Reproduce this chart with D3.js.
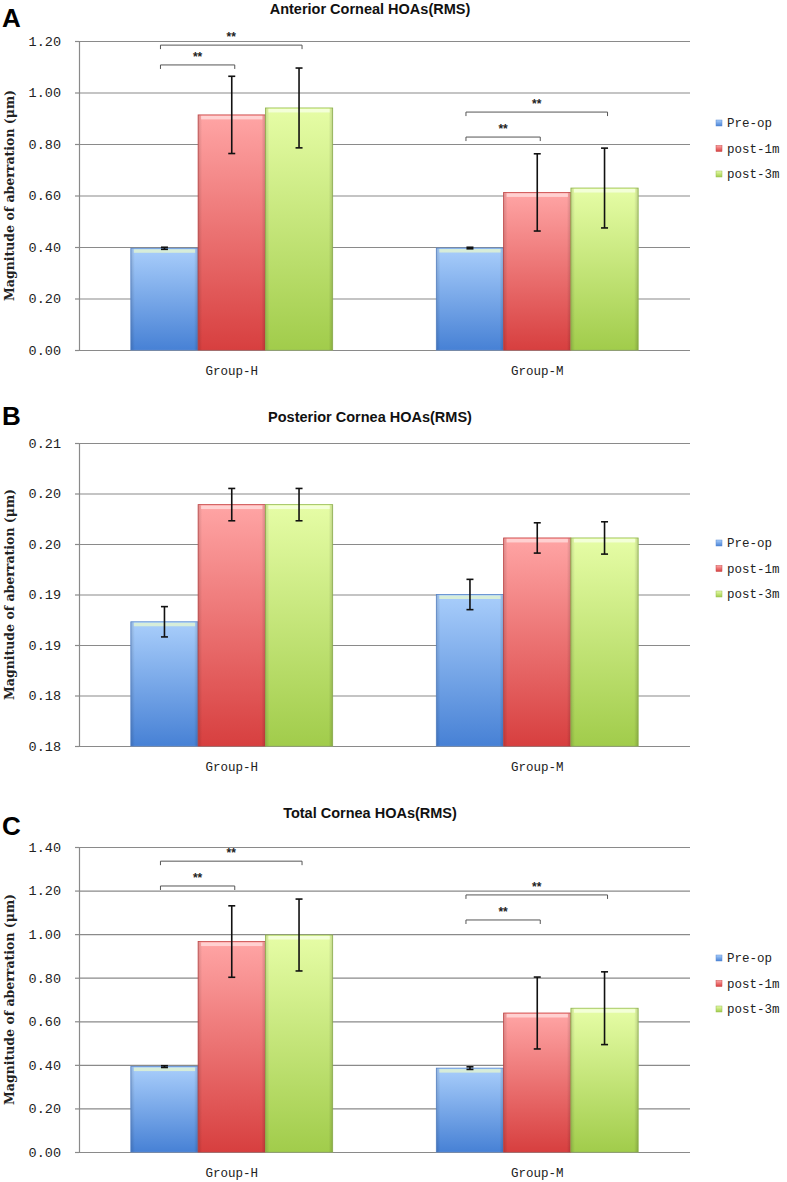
<!DOCTYPE html>
<html>
<head>
<meta charset="utf-8">
<script src="https://cdn.jsdelivr.net/npm/d3@7/dist/d3.min.js"></script>
<style>
  html, body { margin: 0; padding: 0; background: #fff; }
  svg { display: block; }
</style>
</head>
<body>
<svg id="chart" width="787" height="1182"></svg>
<script>
// ---------- DATA ----------
const groups = ["Group-H", "Group-M"];
const seriesNames = ["Pre-op", "post-1m", "post-3m"];

// Panel A: Anterior Corneal HOAs (RMS)
const anteriorMeans = [[0.395, 0.913, 0.940], [0.396, 0.612, 0.629]];
const anteriorErrors = [[0.004, 0.150, 0.155], [0.003, 0.150, 0.155]];
const anteriorTicks = [0, 0.2, 0.4, 0.6, 0.8, 1.0, 1.2];
const anteriorTickLabels = ["0.00", "0.20", "0.40", "0.60", "0.80", "1.00", "1.20"];
const anteriorBrackets = [
  { group: "Group-H", from: "Pre-op", to: "post-1m", level: 1.107, label: "**" },
  { group: "Group-H", from: "Pre-op", to: "post-3m", level: 1.184, label: "**" },
  { group: "Group-M", from: "Pre-op", to: "post-1m", level: 0.827, label: "**" },
  { group: "Group-M", from: "Pre-op", to: "post-3m", level: 0.924, label: "**" }
];

// Panel B: Posterior Cornea HOAs (RMS)
const posteriorMeans = [[0.1873, 0.1989, 0.1989], [0.1900, 0.1956, 0.1956]];
const posteriorErrors = [[0.0015, 0.0016, 0.0016], [0.0015, 0.0015, 0.0016]];
const posteriorTicks = [0.175, 0.18, 0.185, 0.19, 0.195, 0.20, 0.205];
const posteriorTickLabels = ["0.18", "0.18", "0.19", "0.19", "0.20", "0.20", "0.21"];
const posteriorBrackets = [];

// Panel C: Total Cornea HOAs (RMS)
const totalMeans = [[0.392, 0.966, 0.996], [0.385, 0.638, 0.660]];
const totalErrors = [[0.004, 0.164, 0.165], [0.006, 0.165, 0.167]];
const totalTicks = [0, 0.2, 0.4, 0.6, 0.8, 1.0, 1.2, 1.4];
const totalTickLabels = ["0.00", "0.20", "0.40", "0.60", "0.80", "1.00", "1.20", "1.40"];
const totalBrackets = [
  { group: "Group-H", from: "Pre-op", to: "post-1m", level: 1.221, label: "**" },
  { group: "Group-H", from: "Pre-op", to: "post-3m", level: 1.335, label: "**" },
  { group: "Group-M", from: "Pre-op", to: "post-1m", level: 1.065, label: "**" },
  { group: "Group-M", from: "Pre-op", to: "post-3m", level: 1.180, label: "**" }
];

const panelLetters = ["A", "B", "C"];
const panelTitles = ["Anterior Corneal HOAs(RMS)", "Posterior Cornea HOAs(RMS)", "Total Cornea HOAs(RMS)"];
const yAxisTitle = "Magnitude of aberration (\u03bcm)";

// ---------- LAYOUT ----------
const plotLeft = 79, plotRight = 690;
const panels = [
  { letter: panelLetters[0], title: panelTitles[0], means: anteriorMeans, errors: anteriorErrors,
    ticks: anteriorTicks, tickLabels: anteriorTickLabels, brackets: anteriorBrackets,
    top: 41, bottom: 350, titleY: 14, letterY: 27, legendY: 124 },
  { letter: panelLetters[1], title: panelTitles[1], means: posteriorMeans, errors: posteriorErrors,
    ticks: posteriorTicks, tickLabels: posteriorTickLabels, brackets: posteriorBrackets,
    top: 443, bottom: 746, titleY: 422, letterY: 425, legendY: 544 },
  { letter: panelLetters[2], title: panelTitles[2], means: totalMeans, errors: totalErrors,
    ticks: totalTicks, tickLabels: totalTickLabels, brackets: totalBrackets,
    top: 847, bottom: 1152, titleY: 818, letterY: 835, legendY: 959 }
];

const colors = {
  "Pre-op":  { top: "#a9cefb", bottom: "#4781d5", edge: "#5b8bd2", hi: "#dff2d2" },
  "post-1m": { top: "#ffa5a5", bottom: "#d73f3f", edge: "#c84848", hi: "#ffd9d9" },
  "post-3m": { top: "#e6fda6", bottom: "#a1cc4b", edge: "#98bd55", hi: "#f6ffe0" }
};

const monoFont = "'Liberation Mono', 'DejaVu Sans Mono', monospace";
const gridColor = "#8a8a8a";

const svg = d3.select("#chart");
svg.append("rect").attr("width", 787).attr("height", 1182).attr("fill", "#fff");

// gradients
const defs = svg.append("defs");
seriesNames.forEach((s, i) => {
  const gr = defs.append("linearGradient").attr("id", "grad" + i)
    .attr("x1", 0).attr("y1", 0).attr("x2", 0).attr("y2", 1);
  gr.append("stop").attr("offset", "0%").attr("stop-color", colors[s].top);
  gr.append("stop").attr("offset", "100%").attr("stop-color", colors[s].bottom);
});
const side = defs.append("linearGradient").attr("id", "sideShade")
  .attr("x1", 0).attr("y1", 0).attr("x2", 1).attr("y2", 0);
side.append("stop").attr("offset", "0%").attr("stop-color", "#000").attr("stop-opacity", 0.14);
side.append("stop").attr("offset", "6%").attr("stop-color", "#000").attr("stop-opacity", 0.0);
side.append("stop").attr("offset", "94%").attr("stop-color", "#000").attr("stop-opacity", 0.0);
side.append("stop").attr("offset", "100%").attr("stop-color", "#000").attr("stop-opacity", 0.16);

panels.forEach(p => {
  const g = svg.append("g");
  const y = d3.scaleLinear().domain([p.ticks[0], p.ticks[p.ticks.length - 1]]).range([p.bottom, p.top]);
  const x0 = d3.scaleBand().domain(groups).range([plotLeft, plotRight]);
  const x1 = d3.scaleBand().domain(seriesNames).range([0, x0.bandwidth()]).paddingInner(0).paddingOuter(0.77);

  // gridlines
  const grid = g.append("g").attr("transform", `translate(${plotLeft},0)`)
    .call(d3.axisLeft(y).tickValues(p.ticks).tickSize(-(plotRight - plotLeft)).tickFormat(""));
  grid.select(".domain").remove();
  grid.selectAll("line").attr("stroke", gridColor).attr("stroke-width", 1.2);

  // left axis with labels
  const ax = g.append("g").attr("transform", `translate(${plotLeft},0)`)
    .call(d3.axisLeft(y).tickValues(p.ticks).tickSize(4).tickPadding(14)
      .tickFormat((d, i) => p.tickLabels[i]));
  ax.select(".domain").attr("stroke", gridColor).attr("stroke-width", 1.2);
  ax.selectAll("line").attr("stroke", gridColor).attr("stroke-width", 1.2);
  ax.selectAll("text").attr("font-family", monoFont).attr("font-size", 13.5).attr("fill", "#222");

  // x axis labels
  const xa = g.append("g").attr("transform", `translate(0,${p.bottom})`)
    .call(d3.axisBottom(x0).tickSize(0).tickPadding(16));
  xa.select(".domain").remove();
  xa.selectAll("text").attr("font-family", monoFont).attr("font-size", 12.5).attr("fill", "#222");

  // bars
  groups.forEach((grp, gi) => {
    seriesNames.forEach((s, si) => {
      const v = p.means[gi][si];
      const bx = x0(grp) + x1(s);
      const bw = x1.bandwidth();
      const by = y(v);
      const bh = p.bottom - by;
      g.append("rect").attr("x", bx).attr("y", by).attr("width", bw).attr("height", bh)
        .attr("fill", `url(#grad${si})`).attr("stroke", colors[s].edge).attr("stroke-width", 0.8);
      g.append("rect").attr("x", bx).attr("y", by).attr("width", bw).attr("height", bh)
        .attr("fill", "url(#sideShade)");
      g.append("rect").attr("x", bx + 3).attr("y", by + 1).attr("width", bw - 6).attr("height", 3.5)
        .attr("fill", colors[s].hi).attr("opacity", 0.85);
    });
  });

  // error bars
  groups.forEach((grp, gi) => {
    seriesNames.forEach((s, si) => {
      const v = p.means[gi][si], e = p.errors[gi][si];
      const cx = x0(grp) + x1(s) + x1.bandwidth() / 2;
      const y1 = y(v + e), y2 = y(v - e);
      const eg = g.append("g").attr("stroke", "#111").attr("stroke-width", 1.6);
      eg.append("line").attr("x1", cx).attr("x2", cx).attr("y1", y1).attr("y2", y2);
      eg.append("line").attr("x1", cx - 3.5).attr("x2", cx + 3.5).attr("y1", y1).attr("y2", y1);
      eg.append("line").attr("x1", cx - 3.5).attr("x2", cx + 3.5).attr("y1", y2).attr("y2", y2);
    });
  });

  // significance brackets
  p.brackets.forEach(b => {
    const xa1 = x0(b.group) + x1(b.from) + x1.bandwidth() / 2 - 4;
    const xa2 = x0(b.group) + x1(b.to) + x1.bandwidth() / 2 + 3;
    const yy = y(b.level);
    const bg = g.append("g").attr("stroke", "#555").attr("stroke-width", 1).attr("fill", "none");
    bg.append("path").attr("d", `M${xa1},${yy + 4}V${yy}H${xa2}V${yy + 4}`);
    g.append("text").attr("x", (xa1 + xa2) / 2).attr("y", yy - 4).attr("text-anchor", "middle")
      .attr("font-family", "'Liberation Sans', Arial, sans-serif").attr("font-size", 12)
      .attr("font-weight", "bold").attr("fill", "#222").text(b.label);
  });

  // legend
  seriesNames.forEach((s, si) => {
    const ly = p.legendY + si * 25.5;
    g.append("rect").attr("x", 716).attr("y", ly - 4).attr("width", 6).attr("height", 6)
      .attr("fill", `url(#grad${si})`).attr("stroke", colors[s].edge).attr("stroke-width", 0.5);
    g.append("text").attr("x", 727).attr("y", ly).attr("dominant-baseline", "middle")
      .attr("font-family", monoFont).attr("font-size", 12.5).attr("fill", "#222").text(s);
  });

  // y axis title
  const midY = (p.top + p.bottom) / 2;
  g.append("text").attr("transform", `translate(14,${midY}) rotate(-90)`)
    .attr("text-anchor", "middle").attr("font-family", "'DejaVu Serif', 'Liberation Serif', serif")
    .attr("font-size", 12.5).attr("font-weight", "bold").attr("fill", "#222").text(yAxisTitle);

  // panel title
  g.append("text").attr("x", 370).attr("y", p.titleY).attr("text-anchor", "middle")
    .attr("font-family", "'Liberation Sans', Arial, sans-serif").attr("font-size", 14.5)
    .attr("font-weight", "bold").attr("fill", "#111").text(p.title);

  // panel letter
  g.append("text").attr("x", 2).attr("y", p.letterY)
    .attr("font-family", "'Liberation Sans', Arial, sans-serif").attr("font-size", 26)
    .attr("font-weight", "bold").attr("fill", "#000").text(p.letter);
});
</script>
</body>
</html>
